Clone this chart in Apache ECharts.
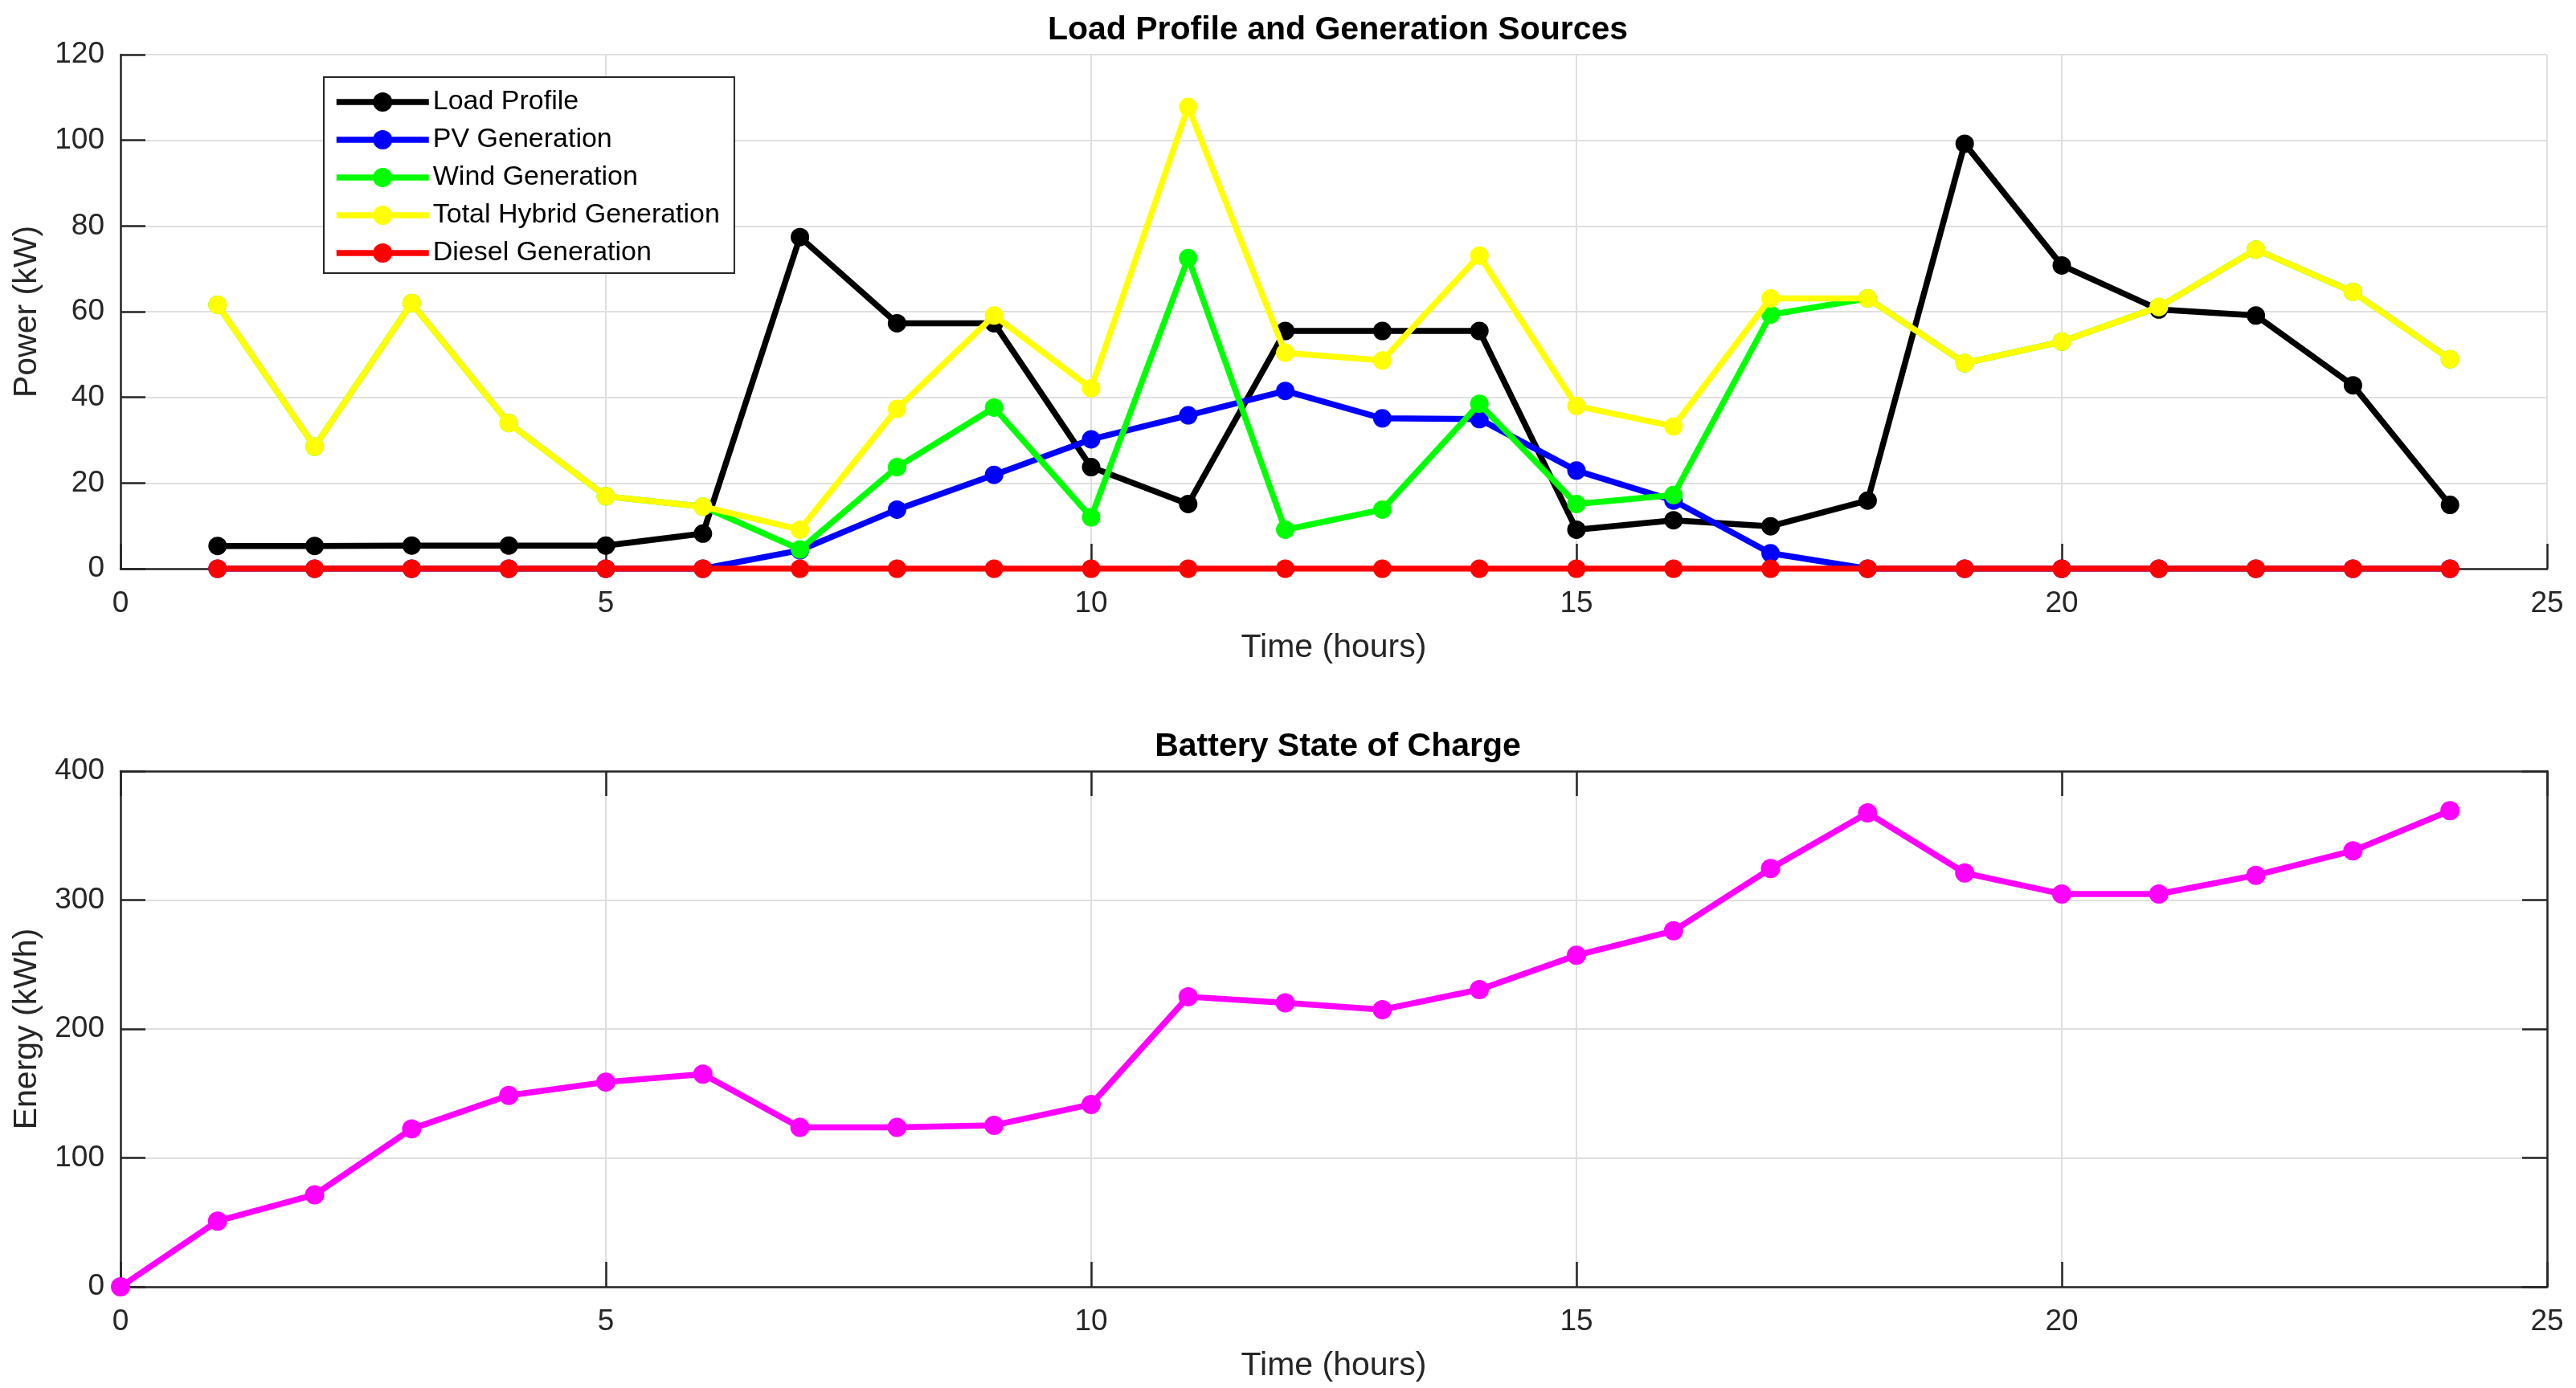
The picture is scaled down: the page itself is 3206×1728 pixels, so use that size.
<!DOCTYPE html>
<html>
<head>
<meta charset="utf-8">
<script src="https://cdn.jsdelivr.net/npm/echarts@6/dist/echarts.min.js"></script>
<style>
html,body{margin:0;padding:0;background:#fff;}
#chart{width:3206px;height:1728px;}
</style>
</head>
<body>
<div id="chart"></div>
<script>
// ---- data ----
const hours = [1,2,3,4,5,6,7,8,9,10,11,12,13,14,15,16,17,18,19,20,21,22,23,24];
const loadProfile = [5.3,5.3,5.4,5.4,5.4,8.2,77.4,57.3,57.3,23.7,15.1,55.5,55.5,55.5,9.1,11.3,9.9,15.9,99.2,70.8,60.5,59.1,42.8,14.9];
const pvGeneration = [0,0,0,0,0,0,4.3,13.8,21.9,30.2,35.8,41.5,35.1,34.9,22.9,15.9,3.6,0,0,0,0,0,0,0];
const windGeneration = [61.6,28.5,62.0,34.0,16.9,14.5,4.5,23.7,37.6,12.0,72.5,9.1,13.8,38.5,15.1,17.2,59.3,63.1,48.0,53.0,61.1,74.5,64.6,48.9];
const totalHybrid = [61.6,28.5,62.0,34.0,16.9,14.5,9.1,37.3,59.1,42.1,107.8,50.4,48.6,73.1,38.0,33.2,63.1,63.1,48.0,53.0,61.1,74.5,64.6,48.9];
const dieselGeneration = [0,0,0,0,0,0,0,0,0,0,0,0,0,0,0,0,0,0,0,0,0,0,0,0];
const socHours = [0,1,2,3,4,5,6,7,8,9,10,11,12,13,14,15,16,17,18,19,20,21,22,23,24];
const batterySoC = [0,51,71.4,122.5,148.4,158.8,165,123.6,123.6,125.3,141.5,225,220.2,215,230.5,257.1,276.1,324.4,367.6,321,304.7,304.7,319.2,338.2,369.3];

const seriesNames = ['Load Profile','PV Generation','Wind Generation','Total Hybrid Generation','Diesel Generation'];
const seriesColors = ['#000000','#0000ff','#00ff00','#ffff00','#ff0000'];
const topData = [loadProfile, pvGeneration, windGeneration, totalHybrid, dieselGeneration];

const FONT = "'Liberation Sans', Arial, Helvetica, sans-serif";
const AX = '#262626';
const GRIDC = '#dfdfdf';

function pairs(xs, ys){ return xs.map((x,i)=>[x, ys[i]]); }

const chart = echarts.init(document.getElementById('chart'), null, {renderer:'canvas'});

function mainX(gridIndex, showGrid){
  return {
    type:'value', gridIndex, min:0, max:25, interval:5, position:'bottom',
    name:'Time (hours)', nameLocation:'middle', nameGap:78,
    nameTextStyle:{fontFamily:FONT, fontSize:41, color:AX},
    axisLine:{show:true, onZero:false, lineStyle:{color:AX, width:2.5}},
    axisTick:{show:true, inside:true, length:31, lineStyle:{color:AX, width:2.5}},
    axisLabel:{fontFamily:FONT, fontSize:37, color:AX, margin:25},
    splitLine:{show:showGrid, lineStyle:{color:GRIDC, width:2}}
  };
}
function mainY(gridIndex, max, interval, name){
  return {
    type:'value', gridIndex, min:0, max, interval, position:'left',
    name, nameLocation:'middle', nameGap:96,
    nameTextStyle:{fontFamily:FONT, fontSize:41, color:AX},
    axisLine:{show:true, onZero:false, lineStyle:{color:AX, width:2.5}},
    axisTick:{show:true, inside:true, length:31, lineStyle:{color:AX, width:2.5}},
    axisLabel:{fontFamily:FONT, fontSize:37, color:AX, margin:20},
    splitLine:{show:true, lineStyle:{color:GRIDC, width:2}}
  };
}

const series = seriesNames.map((n,i)=>({
  name:n, type:'line', xAxisIndex:0, yAxisIndex:0,
  data:pairs(hours, topData[i]),
  symbol:'circle', symbolSize:23, showSymbol:true,
  lineStyle:{color:seriesColors[i], width:7.5},
  itemStyle:{color:seriesColors[i]},
  emphasis:{disabled:true}, z:2+i
}));
series.push({
  name:'Battery SoC', type:'line', xAxisIndex:1, yAxisIndex:1,
  data:pairs(socHours, batterySoC),
  symbol:'circle', symbolSize:24, showSymbol:true,
  lineStyle:{color:'#ff00ff', width:7.5},
  itemStyle:{color:'#ff00ff'},
  emphasis:{disabled:true}
});

const option = {
  backgroundColor:'#ffffff',
  animation:false,
  title:[
    {text:'Load Profile and Generation Sources', left:1660, top:12, textAlign:'center',
     textStyle:{fontFamily:FONT, fontSize:41, fontWeight:'bold', color:'#000'}},
    {text:'Battery State of Charge', left:1660, top:904, textAlign:'center',
     textStyle:{fontFamily:FONT, fontSize:41, fontWeight:'bold', color:'#000'}}
  ],
  grid:[
    {left:150, right:36, top:68, height:640, containLabel:false},
    {left:150, right:36, top:960, height:642, containLabel:false}
  ],
  legend:{
    data:seriesNames, orient:'vertical', left:403, top:96,
    padding:[14,18,8,12], itemGap:13, itemWidth:115, itemHeight:30,
    backgroundColor:'#ffffff', borderColor:AX, borderWidth:2,
    lineStyle:{width:7.5},
    textStyle:{fontFamily:FONT, fontSize:34, color:'#000'},
    selectedMode:false
  },
  xAxis:[
    mainX(0, true),
    mainX(1, true),
    {type:'value', gridIndex:1, min:0, max:25, interval:5, position:'top',
     axisLine:{show:true, onZero:false, lineStyle:{color:AX, width:2.5}},
     axisTick:{show:true, inside:true, length:31, lineStyle:{color:AX, width:2.5}},
     axisLabel:{show:false}, splitLine:{show:false}}
  ],
  yAxis:[
    mainY(0, 120, 20, 'Power (kW)'),
    mainY(1, 400, 100, 'Energy (kWh)'),
    {type:'value', gridIndex:1, min:0, max:400, interval:100, position:'right',
     axisLine:{show:true, onZero:false, lineStyle:{color:AX, width:2.5}},
     axisTick:{show:true, inside:true, length:31, lineStyle:{color:AX, width:2.5}},
     axisLabel:{show:false}, splitLine:{show:false}}
  ],
  series
};
chart.setOption(option);
</script>
</body>
</html>
